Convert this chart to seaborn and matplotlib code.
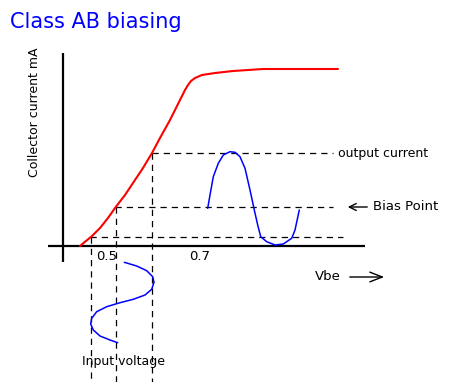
import matplotlib
matplotlib.use("Agg")
import matplotlib.pyplot as plt
import seaborn as sns

# transfer curve (Ic vs Vbe), in picture units: x to the right, y downward
curve_x = [80, 86, 92, 100, 108, 115, 125, 135, 143, 152, 160, 170, 180, 185, 188, 191, 195, 202, 215, 233, 263, 300, 338]
curve_y = [246, 241, 236, 228, 218, 208, 195, 180, 168, 153, 138, 120, 100, 90, 85, 81, 78, 75, 73, 71, 69, 69, 69]

# output current waveform (clipped bottom half)
out_x = [207.7, 210, 213.3, 218.3, 223.3, 230, 235, 240, 245, 250, 254.3, 257.7, 260.7, 266.7, 275, 283.3, 291.7, 295, 299.3]
out_y = [208.3, 195, 176.7, 163.3, 155, 151.7, 152.3, 156.7, 168.3, 190, 210, 225, 236.7, 241.7, 245, 244, 238.3, 230, 210]

# input voltage waveform (drawn sideways under the Vbe axis)
in_x = [124.3, 136.7, 146.7, 152.7, 154, 151.7, 145, 133.3, 120, 106.7, 96.7, 91.7, 90.7, 93.3, 100, 110, 117.7]
in_y = [262.3, 266, 270.7, 276.7, 282.3, 289.3, 295, 299.3, 302.7, 306.7, 311.7, 318.3, 324, 330, 336, 340, 342.7]

# guide lines: (level, start, end)
h_guides = [(153, 152, 333), (207, 115, 333), (237, 90, 343)]
v_guides = [(152, 153, 382), (116, 207, 382), (91, 237, 382)]

tick_labels = ["0.5", "0.7"]
tick_pos = [107, 200]

sns.set_style("white")
fig = plt.figure(figsize=(4.49, 3.82), dpi=100)
ax = fig.add_axes([0, 0, 1, 1])
ax.set_xlim(0, 449)
ax.set_ylim(382, 0)
ax.axis("off")

dash = (0, (5, 4))
for lvl, a, b in h_guides:
    ax.hlines(lvl, a, b, colors="black", linestyles=dash, lw=0.9)
for lvl, a, b in v_guides:
    ax.vlines(lvl, a, b, colors="black", linestyles=dash, lw=0.9)

# axes of the diagram
ax.vlines(63, 53, 262, colors="black", lw=1.6)
ax.hlines(246, 48, 365, colors="black", lw=1.6)

sns.lineplot(x=curve_x, y=curve_y, sort=False, estimator=None, color="#ff0000", lw=1.5, ax=ax)
sns.lineplot(x=out_x, y=out_y, sort=False, estimator=None, color="#0000ff", lw=1.1, ax=ax)
sns.lineplot(x=in_x, y=in_y, sort=False, estimator=None, color="#0000ff", lw=1.1, ax=ax)

for lab, p in zip(tick_labels, tick_pos):
    ax.text(p, 256, lab, ha="center", va="center", fontsize=9.5, color="black")

ax.text(10, 22, "Class AB biasing", color="#0000ff", fontsize=15, ha="left", va="center")
ax.text(35, 112, "Collector current mA", rotation=90, ha="center", va="center", fontsize=9, color="black")
ax.text(338, 154, "output current", ha="left", va="center", fontsize=9, color="black")
ax.text(373, 207, "Bias Point", ha="left", va="center", fontsize=9.5, color="black")
ax.text(315, 277, "Vbe", ha="left", va="center", fontsize=9.5, color="black")
ax.text(82, 362, "Input voltage", ha="left", va="center", fontsize=9, color="black")

ax.annotate("", xy=(345, 207), xytext=(370, 207),
            arrowprops=dict(arrowstyle="->,head_length=0.5,head_width=0.25", color="black", lw=1))
ax.annotate("", xy=(387, 277), xytext=(347, 277),
            arrowprops=dict(arrowstyle="->,head_length=0.9,head_width=0.35", color="black", lw=1))

fig.savefig("out.png", dpi=100)
